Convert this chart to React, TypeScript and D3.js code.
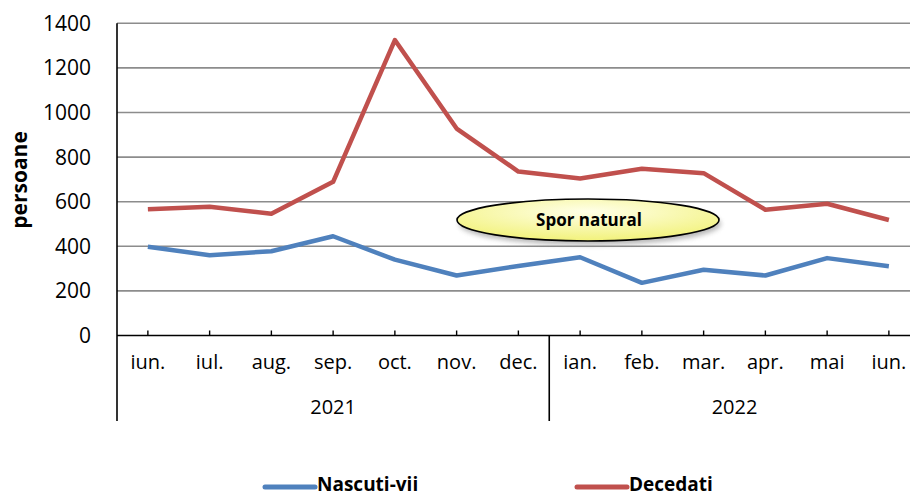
import React, { useEffect, useRef } from "react";
import * as d3 from "d3";

const months = ["iun.", "iul.", "aug.", "sep.", "oct.", "nov.", "dec.", "ian.", "feb.", "mar.", "apr.", "mai", "iun."];
const years = [
  { label: "2021", from: 0, to: 6 },
  { label: "2022", from: 7, to: 12 },
];
const nascuti = [398, 360, 378, 445, 340, 269, 312, 351, 236, 295, 269, 347, 311];
const decedati = [566, 577, 546, 689, 1325, 928, 735, 704, 748, 728, 564, 591, 518];
const yTicks = [0, 200, 400, 600, 800, 1000, 1200, 1400];

const W = 910;
const H = 496;
const FONT = "'Open Sans', 'DejaVu Sans', sans-serif";

export default function App() {
  const svgRef = useRef<SVGSVGElement>(null);

  useEffect(() => {
    const svg = d3.select(svgRef.current);
    svg.selectAll("*").remove();

    const left = 117;
    const top = 23.3;
    const bottom = 335.5;
    const band = 61.75;

    const x = d3
      .scaleBand<number>()
      .domain(months.map((d, i) => i))
      .range([left, left + band * months.length]);
    const cx = (i: number) => (x(i) as number) + x.bandwidth() / 2;
    const y = d3.scaleLinear().domain([0, 1400]).range([bottom, top]);

    const defs = svg.append("defs");
    const grad = defs
      .append("radialGradient")
      .attr("id", "ellFill")
      .attr("cx", "50%")
      .attr("cy", "30%")
      .attr("r", "70%");
    grad.append("stop").attr("offset", "0%").attr("stop-color", "#ffffe8");
    grad.append("stop").attr("offset", "100%").attr("stop-color", "#f2f27a");
    const blur = defs.append("filter").attr("id", "shadow").attr("x", "-20%").attr("y", "-40%").attr("width", "140%").attr("height", "180%");
    blur.append("feGaussianBlur").attr("stdDeviation", 2.5);

    // gridlines
    svg
      .append("g")
      .selectAll("line")
      .data(yTicks.filter((d) => d > 0))
      .enter()
      .append("line")
      .attr("x1", left)
      .attr("x2", W)
      .attr("y1", (d) => y(d))
      .attr("y2", (d) => y(d))
      .style("stroke", "#8c8c8c")
      .style("stroke-width", 1.6);

    // y labels
    svg
      .append("g")
      .selectAll("text")
      .data(yTicks)
      .enter()
      .append("text")
      .text((d) => d)
      .attr("x", 91)
      .attr("y", (d) => y(d) + 7.5)
      .attr("text-anchor", "end")
      .style("font-family", FONT)
      .style("font-size", "21px")
      .style("fill", "#000");

    svg
      .append("text")
      .text("persoane")
      .attr("transform", `translate(27, 180) rotate(-90)`)
      .attr("text-anchor", "middle")
      .style("font-family", FONT)
      .style("font-size", "21px")
      .style("font-weight", "bold");

    // axes
    svg.append("line").attr("x1", left).attr("x2", left).attr("y1", top).attr("y2", 421).style("stroke", "#000").style("stroke-width", 1.6);
    svg.append("line").attr("x1", left).attr("x2", W).attr("y1", bottom).attr("y2", bottom).style("stroke", "#000").style("stroke-width", 1.6);

    svg
      .append("g")
      .selectAll("line")
      .data(months.map((d, i) => i))
      .enter()
      .append("line")
      .attr("x1", (i) => cx(i))
      .attr("x2", (i) => cx(i))
      .attr("y1", bottom - 5)
      .attr("y2", bottom)
      .style("stroke", "#000")
      .style("stroke-width", 1.4);

    svg
      .append("g")
      .selectAll("text")
      .data(months)
      .enter()
      .append("text")
      .text((d) => d)
      .attr("x", (d, i) => cx(i))
      .attr("y", 369)
      .attr("text-anchor", "middle")
      .style("font-family", FONT)
      .style("font-size", "20px");

    // year groups
    years.forEach((g, gi) => {
      const x0 = gi === 0 ? left : (cx(g.from - 1) + cx(g.from)) / 2;
      const x1 = gi === years.length - 1 ? W + 20 : (cx(g.to) + cx(g.to + 1)) / 2;
      if (gi > 0) {
        svg.append("line").attr("x1", x0).attr("x2", x0).attr("y1", bottom).attr("y2", 421).style("stroke", "#000").style("stroke-width", 1.6);
      }
      const mid = gi === years.length - 1 ? (cx(g.from) + cx(g.to)) / 2 : (x0 + x1) / 2;
      svg
        .append("text")
        .text(g.label)
        .attr("x", mid)
        .attr("y", 414)
        .attr("text-anchor", "middle")
        .style("font-family", FONT)
        .style("font-size", "20px");
    });

    // lines
    const line = d3
      .line<number>()
      .x((d, i) => cx(i))
      .y((d) => y(d));

    svg.append("path").datum(nascuti).attr("d", line).style("fill", "none").style("stroke", "#4f81bd").style("stroke-width", 4.5).style("stroke-linejoin", "round");
    svg.append("path").datum(decedati).attr("d", line).style("fill", "none").style("stroke", "#c0504d").style("stroke-width", 4.5).style("stroke-linejoin", "round");

    // annotation
    const ex = 588;
    const ey = 220;
    svg.append("ellipse").attr("cx", ex + 2).attr("cy", ey + 4).attr("rx", 131).attr("ry", 21).style("fill", "#888").style("opacity", 0.6).attr("filter", "url(#shadow)");
    svg.append("ellipse").attr("cx", ex).attr("cy", ey).attr("rx", 131).attr("ry", 21).style("fill", "url(#ellFill)").style("stroke", "#000").style("stroke-width", 1.6);
    svg
      .append("text")
      .text("Spor natural")
      .attr("x", ex + 1)
      .attr("y", ey + 6)
      .attr("text-anchor", "middle")
      .style("font-family", FONT)
      .style("font-size", "17px")
      .style("font-weight", "bold");

    // legend
    const legend = [
      { label: "Nascuti-vii", color: "#4f81bd", x: 265 },
      { label: "Decedati", color: "#c0504d", x: 577 },
    ];
    legend.forEach((l) => {
      svg.append("line").attr("x1", l.x).attr("x2", l.x + 50).attr("y1", 487).attr("y2", 487).style("stroke", l.color).style("stroke-width", 5).style("stroke-linecap", "round");
      svg
        .append("text")
        .text(l.label)
        .attr("x", l.x + 52)
        .attr("y", 491)
        .style("font-family", FONT)
        .style("font-size", "19px")
        .style("font-weight", "bold");
    });
  }, []);

  return <svg ref={svgRef} width={W} height={H} style={{ position: "absolute", left: 0, top: 0, background: "#fff" }} />;
}
